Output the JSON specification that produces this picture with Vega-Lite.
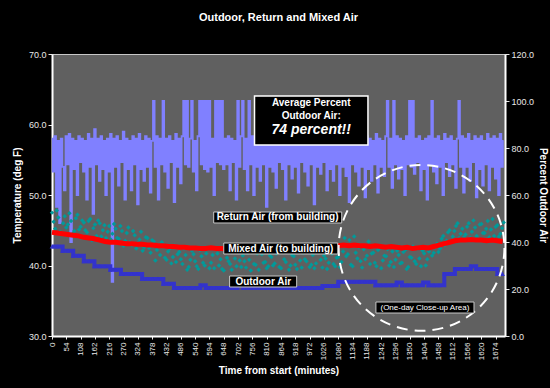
{
  "$schema": "https://vega.github.io/schema/vega-lite/v6.json",
  "width": 453,
  "height": 282,
  "autosize": {"type": "none"},
  "padding": {"left": 52, "top": 54, "right": 45, "bottom": 52},
  "background": "#000000",
  "config": {
    "font": "Liberation Sans",
    "view": {"fill": "#606060", "stroke": "#C8C8C8", "strokeWidth": 1},
    "axis": {"labelColor": "#E8E8E8", "titleColor": "#FFFFFF", "tickColor": "#E8E8E8", "domainColor": "#FFFFFF", "domainWidth": 2, "grid": false, "labelFont": "Liberation Sans", "titleFont": "Liberation Sans", "labelFontSize": 9, "titleFontSize": 10, "titleFontWeight": "bold"}
  },
  "title": {"text": "Outdoor, Return and Mixed Air", "color": "#FFFFFF", "fontSize": 11, "fontWeight": "bold", "offset": 27, "anchor": "middle", "font": "Liberation Sans"},
  "datasets": {
    "pct": [
      {"t":0,"p":84},{"t":6,"p":70},{"t":12,"p":85},{"t":18,"p":55},{"t":24,"p":83},{"t":30,"p":48},{"t":36,"p":84},{"t":42,"p":72},{"t":48,"p":62},{"t":54,"p":85},
      {"t":60,"p":73},{"t":66,"p":86},{"t":72,"p":40},{"t":78,"p":84},{"t":84,"p":71},{"t":90,"p":83},{"t":96,"p":60},{"t":102,"p":85},{"t":108,"p":74},{"t":114,"p":84},
      {"t":120,"p":70},{"t":126,"p":83},{"t":132,"p":58},{"t":138,"p":86},{"t":144,"p":72},{"t":150,"p":84},{"t":156,"p":52},{"t":162,"p":88},{"t":168,"p":73},{"t":174,"p":84},
      {"t":180,"p":66},{"t":186,"p":85},{"t":192,"p":71},{"t":198,"p":83},{"t":204,"p":60},{"t":210,"p":84},{"t":216,"p":70},{"t":222,"p":86},{"t":228,"p":23},{"t":234,"p":84},
      {"t":240,"p":72},{"t":246,"p":85},{"t":252,"p":64},{"t":258,"p":83},{"t":264,"p":74},{"t":270,"p":87},{"t":276,"p":58},{"t":282,"p":84},{"t":288,"p":71},{"t":294,"p":83},
      {"t":300,"p":62},{"t":306,"p":85},{"t":312,"p":73},{"t":318,"p":84},{"t":324,"p":56},{"t":330,"p":86},{"t":336,"p":71},{"t":342,"p":83},{"t":348,"p":66},{"t":354,"p":85},
      {"t":360,"p":72},{"t":366,"p":84},{"t":372,"p":61},{"t":378,"p":83},{"t":384,"p":100},{"t":390,"p":72},{"t":396,"p":85},{"t":402,"p":58},{"t":408,"p":84},{"t":414,"p":73},
      {"t":420,"p":100},{"t":426,"p":70},{"t":432,"p":84},{"t":438,"p":63},{"t":444,"p":85},{"t":450,"p":74},{"t":456,"p":83},{"t":462,"p":57},{"t":468,"p":86},{"t":474,"p":72},
      {"t":480,"p":84},{"t":486,"p":65},{"t":492,"p":85},{"t":498,"p":100},{"t":504,"p":73},{"t":510,"p":100},{"t":516,"p":72},{"t":522,"p":84},{"t":528,"p":100},{"t":534,"p":70},
      {"t":540,"p":83},{"t":546,"p":62},{"t":552,"p":85},{"t":558,"p":100},{"t":564,"p":73},{"t":570,"p":100},{"t":576,"p":71},{"t":582,"p":100},{"t":588,"p":70},{"t":594,"p":100},
      {"t":600,"p":72},{"t":606,"p":84},{"t":612,"p":60},{"t":618,"p":100},{"t":624,"p":74},{"t":630,"p":100},{"t":636,"p":73},{"t":642,"p":100},{"t":648,"p":71},{"t":654,"p":84},
      {"t":660,"p":73},{"t":666,"p":85},{"t":672,"p":62},{"t":678,"p":84},{"t":684,"p":74},{"t":690,"p":83},{"t":696,"p":58},{"t":702,"p":100},{"t":708,"p":72},{"t":714,"p":85},
      {"t":720,"p":100},{"t":726,"p":71},{"t":732,"p":84},{"t":738,"p":62},{"t":744,"p":100},{"t":750,"p":73},{"t":756,"p":85},{"t":762,"p":60},{"t":768,"p":84},{"t":774,"p":72},
      {"t":780,"p":83},{"t":786,"p":66},{"t":792,"p":85},{"t":798,"p":73},{"t":804,"p":84},{"t":810,"p":55},{"t":816,"p":86},{"t":822,"p":72},{"t":828,"p":83},{"t":834,"p":70},
      {"t":840,"p":85},{"t":846,"p":63},{"t":852,"p":84},{"t":858,"p":74},{"t":864,"p":83},{"t":870,"p":71},{"t":876,"p":86},{"t":882,"p":58},{"t":888,"p":84},{"t":894,"p":73},
      {"t":900,"p":82},{"t":906,"p":67},{"t":912,"p":85},{"t":918,"p":72},{"t":924,"p":84},{"t":930,"p":61},{"t":936,"p":83},{"t":942,"p":74},{"t":948,"p":85},{"t":954,"p":70},
      {"t":960,"p":84},{"t":966,"p":64},{"t":972,"p":86},{"t":978,"p":73},{"t":984,"p":83},{"t":990,"p":56},{"t":996,"p":85},{"t":1002,"p":72},{"t":1008,"p":84},{"t":1014,"p":69},
      {"t":1020,"p":85},{"t":1026,"p":74},{"t":1032,"p":83},{"t":1038,"p":62},{"t":1044,"p":84},{"t":1050,"p":71},{"t":1056,"p":86},{"t":1062,"p":66},{"t":1068,"p":83},{"t":1074,"p":73},
      {"t":1080,"p":84},{"t":1086,"p":60},{"t":1092,"p":85},{"t":1098,"p":72},{"t":1104,"p":83},{"t":1110,"p":68},{"t":1116,"p":84},{"t":1122,"p":57},{"t":1128,"p":86},{"t":1134,"p":73},
      {"t":1140,"p":83},{"t":1146,"p":70},{"t":1152,"p":85},{"t":1158,"p":64},{"t":1164,"p":84},{"t":1170,"p":72},{"t":1176,"p":83},{"t":1182,"p":59},{"t":1188,"p":85},{"t":1194,"p":71},
      {"t":1200,"p":84},{"t":1206,"p":66},{"t":1212,"p":83},{"t":1218,"p":73},{"t":1224,"p":86},{"t":1230,"p":61},{"t":1236,"p":84},{"t":1242,"p":72},{"t":1248,"p":83},{"t":1254,"p":68},
      {"t":1260,"p":85},{"t":1266,"p":100},{"t":1272,"p":72},{"t":1278,"p":84},{"t":1284,"p":63},{"t":1290,"p":100},{"t":1296,"p":73},{"t":1302,"p":85},{"t":1308,"p":67},{"t":1314,"p":84},
      {"t":1320,"p":71},{"t":1326,"p":83},{"t":1332,"p":60},{"t":1338,"p":85},{"t":1344,"p":73},{"t":1350,"p":100},{"t":1356,"p":72},{"t":1362,"p":100},{"t":1368,"p":69},{"t":1374,"p":84},
      {"t":1380,"p":74},{"t":1386,"p":85},{"t":1392,"p":62},{"t":1398,"p":83},{"t":1404,"p":71},{"t":1410,"p":84},{"t":1416,"p":58},{"t":1422,"p":85},{"t":1428,"p":73},{"t":1434,"p":100},
      {"t":1440,"p":70},{"t":1446,"p":84},{"t":1452,"p":65},{"t":1458,"p":85},{"t":1464,"p":72},{"t":1470,"p":83},{"t":1476,"p":60},{"t":1482,"p":86},{"t":1488,"p":74},{"t":1494,"p":84},
      {"t":1500,"p":68},{"t":1506,"p":85},{"t":1512,"p":73},{"t":1518,"p":83},{"t":1524,"p":63},{"t":1530,"p":84},{"t":1536,"p":100},{"t":1542,"p":72},{"t":1548,"p":85},{"t":1554,"p":61},
      {"t":1560,"p":84},{"t":1566,"p":72},{"t":1572,"p":86},{"t":1578,"p":66},{"t":1584,"p":83},{"t":1590,"p":74},{"t":1596,"p":85},{"t":1602,"p":59},{"t":1608,"p":84},{"t":1614,"p":71},
      {"t":1620,"p":85},{"t":1626,"p":64},{"t":1632,"p":83},{"t":1638,"p":73},{"t":1644,"p":86},{"t":1650,"p":62},{"t":1656,"p":84},{"t":1662,"p":72},{"t":1668,"p":85},{"t":1674,"p":67},
      {"t":1680,"p":84},{"t":1686,"p":60},{"t":1692,"p":86},{"t":1698,"p":72},{"t":1704,"p":83}
    ],
    "ret": [
      {"t":0,"v":47.5},{"t":12,"v":45.2},{"t":24,"v":46.8},{"t":36,"v":44.6},{"t":48,"v":47.0},{"t":60,"v":45.8},{"t":72,"v":46.3},{"t":84,"v":44.9},{"t":96,"v":47.2},{"t":108,"v":45.5},
      {"t":120,"v":46.1},{"t":132,"v":44.7},{"t":144,"v":46.6},{"t":156,"v":45.3},{"t":168,"v":44.2},{"t":180,"v":46.0},{"t":192,"v":45.0},{"t":204,"v":43.9},{"t":216,"v":45.6},{"t":228,"v":44.5},
      {"t":240,"v":45.2},{"t":252,"v":43.8},{"t":264,"v":44.9},{"t":276,"v":43.5},{"t":288,"v":45.4},{"t":300,"v":42.9},{"t":312,"v":44.3},{"t":324,"v":43.2},{"t":336,"v":44.8},{"t":348,"v":42.6},
      {"t":360,"v":43.9},{"t":372,"v":41.8},{"t":384,"v":43.4},{"t":396,"v":42.2},{"t":408,"v":41.5},{"t":420,"v":43.0},{"t":432,"v":40.8},{"t":444,"v":42.4},{"t":456,"v":41.2},{"t":468,"v":40.5},
      {"t":480,"v":41.9},{"t":492,"v":40.2},{"t":504,"v":41.5},{"t":516,"v":39.8},{"t":528,"v":42.1},{"t":540,"v":40.6},{"t":552,"v":39.5},{"t":564,"v":41.3},{"t":576,"v":40.0},{"t":588,"v":42.3},
      {"t":600,"v":40.4},{"t":612,"v":39.6},{"t":624,"v":41.7},{"t":636,"v":40.9},{"t":648,"v":39.3},{"t":660,"v":41.1},{"t":672,"v":40.2},{"t":684,"v":42.0},{"t":696,"v":39.9},{"t":708,"v":40.7},
      {"t":720,"v":41.4},{"t":732,"v":39.7},{"t":744,"v":40.8},{"t":756,"v":42.2},{"t":768,"v":40.1},{"t":780,"v":39.4},{"t":792,"v":41.6},{"t":804,"v":40.5},{"t":816,"v":39.9},{"t":828,"v":41.2},
      {"t":840,"v":40.3},{"t":852,"v":41.9},{"t":864,"v":39.6},{"t":876,"v":40.9},{"t":888,"v":42.4},{"t":900,"v":40.0},{"t":912,"v":41.3},{"t":924,"v":39.5},{"t":936,"v":40.7},{"t":948,"v":41.8},
      {"t":960,"v":40.6},{"t":972,"v":39.8},{"t":984,"v":41.5},{"t":996,"v":40.3},{"t":1008,"v":42.1},{"t":1020,"v":39.7},{"t":1032,"v":41.0},{"t":1044,"v":40.4},{"t":1056,"v":41.7},{"t":1068,"v":39.9},
      {"t":1080,"v":41.2},{"t":1092,"v":40.5},{"t":1104,"v":43.9},{"t":1116,"v":41.6},{"t":1128,"v":40.1},{"t":1140,"v":44.1},{"t":1152,"v":41.0},{"t":1164,"v":40.6},{"t":1176,"v":42.3},{"t":1188,"v":41.4},
      {"t":1200,"v":40.2},{"t":1212,"v":41.8},{"t":1224,"v":39.9},{"t":1236,"v":42.5},{"t":1248,"v":40.7},{"t":1260,"v":41.3},{"t":1272,"v":40.0},{"t":1284,"v":42.0},{"t":1296,"v":40.8},{"t":1308,"v":41.5},
      {"t":1320,"v":40.4},{"t":1332,"v":42.2},{"t":1344,"v":39.8},{"t":1356,"v":41.1},{"t":1368,"v":40.6},{"t":1380,"v":42.4},{"t":1392,"v":39.9},{"t":1404,"v":41.7},{"t":1416,"v":40.9},{"t":1428,"v":42.6},
      {"t":1440,"v":41.8},{"t":1452,"v":43.1},{"t":1464,"v":42.4},{"t":1476,"v":44.2},{"t":1488,"v":43.5},{"t":1500,"v":45.0},{"t":1512,"v":44.1},{"t":1524,"v":45.6},{"t":1536,"v":43.9},{"t":1548,"v":45.2},
      {"t":1560,"v":44.4},{"t":1572,"v":46.0},{"t":1584,"v":44.8},{"t":1596,"v":45.4},{"t":1608,"v":43.8},{"t":1620,"v":45.9},{"t":1632,"v":44.6},{"t":1644,"v":46.3},{"t":1656,"v":45.1},{"t":1668,"v":44.2},
      {"t":1680,"v":45.7},{"t":1692,"v":44.5},{"t":1704,"v":46.1},
      {"t":6,"v":46.2},{"t":18,"v":47.8},{"t":30,"v":44.8},{"t":42,"v":46.0},{"t":54,"v":45.4},{"t":66,"v":47.4},{"t":78,"v":44.5},{"t":90,"v":46.7},{"t":102,"v":45.1},{"t":114,"v":46.4},
      {"t":126,"v":45.0},{"t":138,"v":46.3},{"t":150,"v":43.6},{"t":162,"v":45.8},{"t":174,"v":46.4},{"t":186,"v":44.1},{"t":198,"v":45.7},{"t":210,"v":44.8},{"t":222,"v":43.7},{"t":234,"v":45.9},
      {"t":246,"v":43.9},{"t":258,"v":45.6},{"t":270,"v":42.8},{"t":282,"v":44.6},{"t":294,"v":43.3},{"t":306,"v":44.9},{"t":318,"v":42.4},{"t":330,"v":43.7},{"t":342,"v":42.1},{"t":354,"v":44.0},
      {"t":366,"v":42.5},{"t":378,"v":43.6},{"t":390,"v":40.7},{"t":402,"v":42.9},{"t":414,"v":43.3},{"t":426,"v":41.1},{"t":438,"v":42.0},{"t":450,"v":40.3},{"t":462,"v":42.8},{"t":474,"v":41.6},
      {"t":486,"v":40.9},{"t":498,"v":42.4},{"t":510,"v":39.4},{"t":522,"v":40.8},{"t":534,"v":41.6},{"t":546,"v":39.9},{"t":558,"v":42.2},{"t":570,"v":40.4},{"t":582,"v":41.7},{"t":594,"v":39.6},
      {"t":606,"v":41.5},{"t":618,"v":42.4},{"t":630,"v":40.0},{"t":642,"v":39.5},{"t":654,"v":41.9},{"t":666,"v":40.6},{"t":678,"v":39.4},{"t":690,"v":41.0},{"t":702,"v":42.1},{"t":714,"v":39.8},
      {"t":726,"v":40.6},{"t":738,"v":41.8},{"t":750,"v":39.3},{"t":762,"v":40.2},{"t":774,"v":41.7},{"t":786,"v":42.3},{"t":798,"v":40.4},{"t":810,"v":39.6},{"t":822,"v":41.4},{"t":834,"v":40.0},
      {"t":846,"v":41.7},{"t":858,"v":39.8},{"t":870,"v":42.0},{"t":882,"v":40.5},{"t":894,"v":39.4},{"t":906,"v":41.5},{"t":918,"v":40.1},{"t":930,"v":42.2},{"t":942,"v":39.7},{"t":954,"v":40.9},
      {"t":966,"v":41.9},{"t":978,"v":40.1},{"t":990,"v":39.6},{"t":1002,"v":42.0},{"t":1014,"v":40.8},{"t":1026,"v":41.4},{"t":1038,"v":39.5},{"t":1050,"v":42.3},{"t":1062,"v":40.2},{"t":1074,"v":41.1},
      {"t":1086,"v":39.8},{"t":1098,"v":42.0},{"t":1110,"v":41.3},{"t":1122,"v":43.6},{"t":1134,"v":39.9},{"t":1146,"v":41.8},{"t":1158,"v":42.6},{"t":1170,"v":39.7},{"t":1182,"v":40.9},{"t":1194,"v":43.4},
      {"t":1206,"v":41.7},{"t":1218,"v":40.4},{"t":1230,"v":42.2},{"t":1242,"v":39.6},{"t":1254,"v":41.4},{"t":1266,"v":42.3},{"t":1278,"v":40.5},{"t":1290,"v":39.8},{"t":1302,"v":42.1},{"t":1314,"v":40.3},
      {"t":1326,"v":41.9},{"t":1338,"v":39.5},{"t":1350,"v":41.2},{"t":1362,"v":42.7},{"t":1374,"v":40.2},{"t":1386,"v":41.0},{"t":1398,"v":42.1},{"t":1410,"v":40.0},{"t":1422,"v":42.0},{"t":1434,"v":41.4},
      {"t":1446,"v":42.7},{"t":1458,"v":41.9},{"t":1470,"v":43.8},{"t":1482,"v":42.9},{"t":1494,"v":44.7},{"t":1506,"v":43.4},{"t":1518,"v":44.9},{"t":1530,"v":46.0},{"t":1542,"v":44.5},{"t":1554,"v":44.0},
      {"t":1566,"v":45.5},{"t":1578,"v":43.9},{"t":1590,"v":46.4},{"t":1602,"v":44.2},{"t":1614,"v":45.8},{"t":1626,"v":44.6},{"t":1638,"v":45.2},{"t":1650,"v":44.0},{"t":1662,"v":46.6},{"t":1674,"v":45.5},
      {"t":1686,"v":44.1},{"t":1698,"v":45.3}
    ],
    "mix": [
      {"t":0,"v":44.7},{"t":20,"v":44.6},{"t":40,"v":44.5},{"t":60,"v":44.4},{"t":80,"v":44.3},{"t":100,"v":44.2},{"t":120,"v":44.0},{"t":140,"v":43.9},{"t":160,"v":43.8},{"t":180,"v":43.6},
      {"t":200,"v":43.4},{"t":220,"v":43.3},{"t":240,"v":43.3},{"t":260,"v":43.2},{"t":280,"v":43.1},{"t":300,"v":43.1},{"t":320,"v":43.0},{"t":340,"v":43.0},{"t":360,"v":42.9},{"t":380,"v":42.9},
      {"t":400,"v":42.8},{"t":420,"v":42.8},{"t":440,"v":42.7},{"t":460,"v":42.7},{"t":480,"v":42.6},{"t":500,"v":42.6},{"t":520,"v":42.5},{"t":540,"v":42.5},{"t":560,"v":42.4},{"t":580,"v":42.4},
      {"t":600,"v":42.5},{"t":620,"v":42.4},{"t":640,"v":42.4},{"t":660,"v":42.3},{"t":680,"v":42.4},{"t":700,"v":42.5},{"t":720,"v":42.4},{"t":740,"v":42.4},{"t":760,"v":42.5},{"t":780,"v":42.4},
      {"t":800,"v":42.5},{"t":820,"v":42.4},{"t":840,"v":42.5},{"t":860,"v":42.6},{"t":880,"v":42.5},{"t":900,"v":42.5},{"t":920,"v":42.6},{"t":940,"v":42.6},{"t":960,"v":42.7},{"t":980,"v":42.6},
      {"t":1000,"v":42.7},{"t":1020,"v":42.8},{"t":1040,"v":42.7},{"t":1060,"v":42.8},{"t":1080,"v":42.8},{"t":1100,"v":42.9},{"t":1120,"v":42.8},{"t":1140,"v":42.9},{"t":1160,"v":42.8},{"t":1180,"v":42.8},
      {"t":1200,"v":42.7},{"t":1220,"v":42.8},{"t":1240,"v":42.7},{"t":1260,"v":42.6},{"t":1280,"v":42.7},{"t":1300,"v":42.6},{"t":1320,"v":42.5},{"t":1340,"v":42.6},{"t":1360,"v":42.4},{"t":1380,"v":42.5},
      {"t":1400,"v":42.6},{"t":1420,"v":42.5},{"t":1440,"v":42.7},{"t":1460,"v":42.9},{"t":1480,"v":43.1},{"t":1500,"v":43.3},{"t":1520,"v":43.5},{"t":1540,"v":43.6},{"t":1560,"v":43.6},{"t":1580,"v":43.7},
      {"t":1600,"v":43.6},{"t":1620,"v":43.6},{"t":1640,"v":43.5},{"t":1660,"v":43.6},{"t":1680,"v":43.5},{"t":1700,"v":43.4}
    ],
    "oa": [
      {"t":0,"v":42.7},{"t":20,"v":42.7},{"t":40,"v":42.1},{"t":60,"v":42.1},{"t":80,"v":41.4},{"t":100,"v":41.4},{"t":120,"v":40.6},{"t":140,"v":40.6},{"t":160,"v":39.9},{"t":180,"v":39.9},
      {"t":200,"v":39.9},{"t":220,"v":39.4},{"t":240,"v":39.4},{"t":260,"v":38.8},{"t":280,"v":38.8},{"t":300,"v":38.8},{"t":320,"v":38.8},{"t":340,"v":38.1},{"t":360,"v":38.1},{"t":380,"v":38.1},
      {"t":400,"v":38.1},{"t":420,"v":37.4},{"t":440,"v":37.4},{"t":460,"v":36.8},{"t":480,"v":36.8},{"t":500,"v":36.8},{"t":520,"v":36.8},{"t":540,"v":36.8},{"t":560,"v":37.2},{"t":580,"v":36.8},
      {"t":600,"v":36.8},{"t":620,"v":36.8},{"t":640,"v":36.8},{"t":660,"v":36.8},{"t":680,"v":36.8},{"t":700,"v":37.2},{"t":720,"v":36.8},{"t":740,"v":36.8},{"t":760,"v":36.8},{"t":780,"v":36.8},
      {"t":800,"v":36.8},{"t":820,"v":36.8},{"t":840,"v":36.8},{"t":860,"v":36.8},{"t":880,"v":36.8},{"t":900,"v":36.8},{"t":920,"v":36.8},{"t":940,"v":36.8},{"t":960,"v":36.8},{"t":980,"v":36.8},
      {"t":1000,"v":36.8},{"t":1020,"v":37.1},{"t":1040,"v":37.1},{"t":1060,"v":37.1},{"t":1080,"v":37.7},{"t":1100,"v":37.7},{"t":1120,"v":37.7},{"t":1140,"v":37.7},{"t":1160,"v":37.7},{"t":1180,"v":37.7},
      {"t":1200,"v":37.7},{"t":1220,"v":37.2},{"t":1240,"v":37.2},{"t":1260,"v":37.2},{"t":1280,"v":37.2},{"t":1300,"v":37.6},{"t":1320,"v":37.2},{"t":1340,"v":37.2},{"t":1360,"v":37.2},{"t":1380,"v":37.2},
      {"t":1400,"v":37.6},{"t":1420,"v":37.2},{"t":1440,"v":37.2},{"t":1460,"v":37.2},{"t":1480,"v":38.8},{"t":1500,"v":38.8},{"t":1520,"v":39.5},{"t":1540,"v":39.5},{"t":1560,"v":39.5},{"t":1580,"v":39.9},
      {"t":1600,"v":39.5},{"t":1620,"v":39.5},{"t":1640,"v":39.5},{"t":1660,"v":39.5},{"t":1680,"v":38.8},{"t":1700,"v":38.8}
    ],
    "circle": [{"t": 1394, "v": 42.5}],
    "box1": [{"t": 764, "t2": 1192, "v1": 64.04, "v2": 57.09}],
    "boxes": [
      {"t": 610, "t2": 1093, "v1": 47.59, "v2": 46.03},
      {"t": 648, "t2": 1078, "v1": 43.19, "v2": 41.63},
      {"t": 670, "t2": 923, "v1": 38.51, "v2": 36.95},
      {"t": 1222, "t2": 1592, "v1": 34.82, "v2": 33.26}
    ],
    "lblbold": [
      {"t": 978, "v": 63.09, "label": "Average Percent"},
      {"t": 978, "v": 61.21, "label": "Outdoor Air:"},
      {"t": 851, "v": 46.81, "label": "Return Air (from building)"},
      {"t": 863, "v": 42.41, "label": "Mixed Air (to building)"},
      {"t": 797, "v": 37.73, "label": "Outdoor Air"}
    ],
    "lblbig": [{"t": 978, "v": 59.22, "label": "74 percent!!"}],
    "lblsmall": [{"t": 1407, "v": 34.04, "label": "(One-day Close-up Area)"}]
  },
  "encoding": {
    "x": {"field": "t", "type": "quantitative", "scale": {"domain": [0, 1709], "nice": false, "zero": false},
          "axis": {"title": "Time from start (minutes)", "values": [0,54,108,162,216,270,324,378,432,486,540,594,648,702,756,810,864,918,972,1026,1080,1134,1188,1242,1296,1350,1404,1458,1512,1566,1620,1674], "format": "d", "labelAngle": -90, "labelFontSize": 8, "tickSize": 3, "labelPadding": 3, "titlePadding": 6}}
  },
  "layer": [
    {
      "data": {"name": "pct"},
      "mark": {"type": "line", "color": "#8080FF", "strokeWidth": 1.8, "interpolate": "step"},
      "encoding": {
        "y": {"field": "p", "type": "quantitative", "scale": {"domain": [0, 120], "nice": false},
              "axis": {"orient": "right", "title": "Percent Outdoor Air", "values": [0,20,40,60,80,100,120], "format": ".1f", "tickSize": 4, "titlePadding": 4}}
      }
    },
    {
      "layer": [
        {
          "data": {"name": "ret"},
          "mark": {"type": "point", "shape": "diamond", "filled": true, "size": 20, "color": "#009A9A", "opacity": 1},
          "encoding": {
            "y": {"field": "v", "type": "quantitative", "scale": {"domain": [30, 70], "nice": false, "zero": false},
                  "axis": {"orient": "left", "title": "Temperature (deg F)", "values": [30,35,40,45,50,55,60,65,70], "format": ".1f", "tickSize": 4, "titlePadding": 6}}
          }
        },
        {
          "data": {"name": "mix"},
          "mark": {"type": "line", "color": "#FF0000", "strokeWidth": 5},
          "encoding": {"y": {"field": "v", "type": "quantitative"}}
        },
        {
          "data": {"name": "oa"},
          "mark": {"type": "line", "color": "#3333CC", "strokeWidth": 4, "interpolate": "step-after"},
          "encoding": {"y": {"field": "v", "type": "quantitative"}}
        },
        {
          "data": {"name": "oa"},
          "mark": {"type": "point", "shape": "triangle-up", "filled": true, "size": 22, "color": "#3333CC", "opacity": 1},
          "encoding": {"y": {"field": "v", "type": "quantitative"}}
        },
        {
          "data": {"name": "circle"},
          "mark": {"type": "point", "shape": "circle", "filled": false, "size": 27500, "stroke": "#FFFFFF", "strokeWidth": 2, "strokeDash": [11, 7], "opacity": 1},
          "encoding": {"y": {"field": "v", "type": "quantitative"}}
        },
        {
          "data": {"name": "box1"},
          "mark": {"type": "rect", "fill": "#000000", "stroke": "#FFFFFF", "strokeWidth": 1.5},
          "encoding": {
            "x2": {"field": "t2"},
            "y": {"field": "v1", "type": "quantitative"},
            "y2": {"field": "v2"}
          }
        },
        {
          "data": {"name": "boxes"},
          "mark": {"type": "rect", "fill": "#000000", "stroke": "#C8C8C8", "strokeWidth": 1},
          "encoding": {
            "x2": {"field": "t2"},
            "y": {"field": "v1", "type": "quantitative"},
            "y2": {"field": "v2"}
          }
        },
        {
          "data": {"name": "lblbold"},
          "mark": {"type": "text", "color": "#FFFFFF", "fontSize": 10, "fontWeight": "bold", "baseline": "middle", "align": "center"},
          "encoding": {
            "y": {"field": "v", "type": "quantitative"},
            "text": {"field": "label"}
          }
        },
        {
          "data": {"name": "lblbig"},
          "mark": {"type": "text", "color": "#FFFFFF", "fontSize": 14, "fontWeight": "bold", "fontStyle": "italic", "baseline": "middle", "align": "center"},
          "encoding": {
            "y": {"field": "v", "type": "quantitative"},
            "text": {"field": "label"}
          }
        },
        {
          "data": {"name": "lblsmall"},
          "mark": {"type": "text", "color": "#FFFFFF", "fontSize": 8, "baseline": "middle", "align": "center"},
          "encoding": {
            "y": {"field": "v", "type": "quantitative"},
            "text": {"field": "label"}
          }
        }
      ]
    }
  ],
  "resolve": {"scale": {"y": "independent"}}
}
